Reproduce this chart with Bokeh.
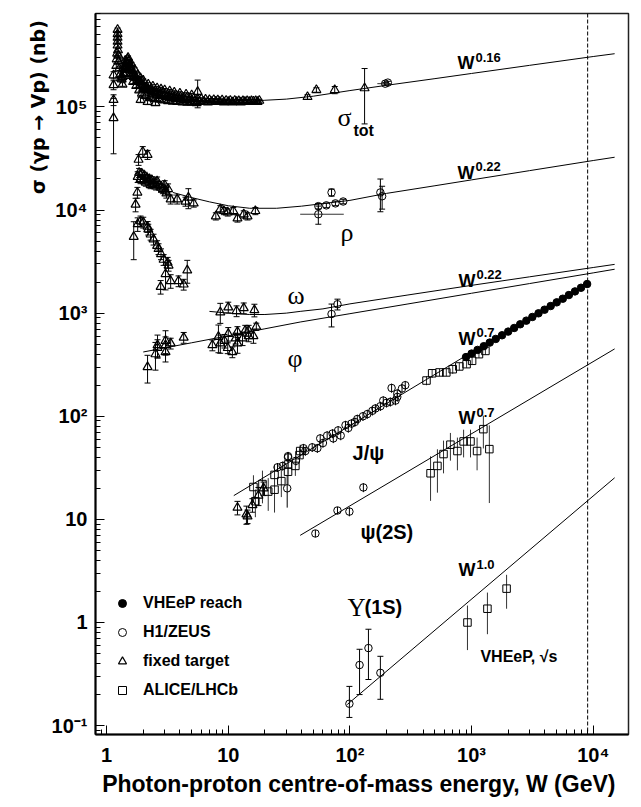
from bokeh.plotting import figure
from bokeh.models import (ColumnDataSource, Whisker, TeeHead, Span, Label, Legend, LegendItem,
                          FixedTicker, CustomJSTickFormatter, Range1d, Title)
from bokeh.embed import file_html
from bokeh.resources import INLINE

# ---------------- data (W in GeV, sigma in nb) ----------------
# sigma_tot, fixed target
tot_ft_W = [1.14, 1.14, 1.14, 1.14, 1.20, 1.21, 1.22, 1.23, 1.23, 1.23, 1.23, 1.23, 1.24, 1.25, 1.26, 1.27,
            1.29, 1.31, 1.33, 1.35, 1.37, 1.40, 1.43, 1.46, 1.49, 1.52, 1.55, 1.58, 1.62, 1.66, 1.70, 1.75,
            1.80, 1.86, 1.92, 1.98, 2.05, 2.12, 2.20, 2.28, 2.37, 2.46, 2.56, 2.67, 2.78, 2.90, 3.03, 3.17,
            3.32, 3.48, 3.65, 3.85, 4.05, 4.30, 4.55, 4.85, 5.20, 5.60, 6.00, 6.50, 7.00, 7.60, 8.20, 8.90,
            9.60, 10.4, 11.3, 12.2, 13.2, 14.3, 15.5, 16.8, 18.0,
            1.35, 1.45, 1.55, 1.65, 1.75, 1.85, 1.95, 2.10, 2.30, 2.50, 2.70, 2.95, 3.20, 3.50, 3.80, 4.20,
            4.60, 5.00, 5.50,
            1.42, 1.50, 1.60, 1.70, 1.80, 1.90, 2.00, 2.20, 2.40, 2.60, 2.80, 3.00, 3.30, 3.60, 4.00, 4.50,
            5.00,
            1.38, 1.47, 1.57, 1.67, 1.77, 1.88, 2.00, 2.15, 2.35, 2.55, 2.75, 3.10, 3.40, 3.70, 4.10, 4.40,
            4.80, 5.30, 5.80, 6.30, 6.80, 7.30, 7.90, 8.50, 9.20, 10.0, 10.8, 11.7, 12.7, 13.7, 14.9, 16.1,
            17.4,
            1.90, 2.17, 2.52, 5.60, 44.8, 53.0, 75.0, 132.0]
tot_ft_sig = [7.8e4, 1.17e5, 1.63e5, 2.03e5, 2.5e5, 2.9e5, 3.3e5, 5.6e5, 5.1e5, 4.7e5, 4.3e5, 3.95e5, 3.55e5, 3.15e5, 2.75e5, 2.35e5,
              2.05e5, 1.9e5, 1.85e5, 1.95e5, 2.1e5, 2.3e5, 2.5e5, 2.7e5, 2.9e5, 2.75e5, 2.55e5, 2.4e5, 2.25e5, 2.1e5, 2.0e5, 1.9e5,
              1.82e5, 1.75e5, 1.7e5, 1.62e5, 1.57e5, 1.53e5, 1.48e5, 1.46e5, 1.43e5, 1.40e5, 1.38e5, 1.36e5, 1.35e5, 1.33e5, 1.32e5, 1.30e5,
              1.29e5, 1.27e5, 1.26e5, 1.25e5, 1.24e5, 1.23e5, 1.22e5, 1.21e5, 1.20e5, 1.19e5, 1.19e5, 1.18e5, 1.17e5, 1.17e5, 1.16e5, 1.16e5,
              1.15e5, 1.15e5, 1.15e5, 1.14e5, 1.14e5, 1.14e5, 1.14e5, 1.14e5, 1.15e5,
              1.65e5, 2.1e5, 2.0e5, 1.75e5, 1.6e5, 1.45e5, 1.35e5, 1.28e5, 1.22e5, 1.2e5, 1.18e5, 1.16e5, 1.14e5, 1.13e5, 1.12e5, 1.11e5,
              1.1e5, 1.1e5, 1.09e5,
              2.8e5, 3.0e5, 2.6e5, 2.3e5, 2.05e5, 1.9e5, 1.8e5, 1.65e5, 1.58e5, 1.52e5, 1.48e5, 1.45e5, 1.42e5, 1.38e5, 1.35e5, 1.32e5,
              1.3e5,
              2.4e5, 2.6e5, 2.3e5, 1.95e5, 1.75e5, 1.6e5, 1.5e5, 1.45e5, 1.35e5, 1.3e5, 1.28e5, 1.25e5, 1.22e5, 1.2e5, 1.18e5, 1.17e5,
              1.15e5, 1.13e5, 1.12e5, 1.12e5, 1.11e5, 1.12e5, 1.13e5, 1.12e5, 1.11e5, 1.12e5, 1.11e5, 1.12e5, 1.11e5, 1.12e5, 1.12e5, 1.13e5,
              1.12e5,
              1.17e5, 1.12e5, 1.09e5, 1.4e5, 1.25e5, 1.46e5, 1.46e5, 1.52e5]
tot_ft_err = [0.55, 0.12, 0.10, 0.08, 0.05, 0.05, 0.05, 0.04, 0.04, 0.04, 0.04, 0.04, 0.04, 0.04, 0.04, 0.04,
              0.04, 0.04, 0.04, 0.04, 0.04, 0.04, 0.04, 0.04, 0.04, 0.04, 0.04, 0.04, 0.04, 0.04, 0.04, 0.04,
              0.04, 0.04, 0.04, 0.04, 0.04, 0.04, 0.04, 0.04, 0.04, 0.04, 0.04, 0.04, 0.04, 0.04, 0.04, 0.04,
              0.03, 0.03, 0.03, 0.03, 0.03, 0.03, 0.03, 0.03, 0.03, 0.03, 0.03, 0.03, 0.03, 0.03, 0.03, 0.03,
              0.03, 0.03, 0.03, 0.03, 0.03, 0.03, 0.03, 0.03, 0.03,
              0.04, 0.04, 0.04, 0.04, 0.04, 0.04, 0.04, 0.04, 0.04, 0.04, 0.04, 0.04, 0.04, 0.04, 0.04, 0.04,
              0.04, 0.04, 0.04,
              0.04, 0.04, 0.04, 0.04, 0.04, 0.04, 0.04, 0.04, 0.04, 0.04, 0.04, 0.04, 0.04, 0.04, 0.04, 0.04,
              0.04,
              0.04, 0.04, 0.04, 0.04, 0.04, 0.04, 0.04, 0.04, 0.04, 0.04, 0.04, 0.04, 0.04, 0.04, 0.04, 0.04,
              0.04, 0.04, 0.04, 0.04, 0.04, 0.04, 0.04, 0.04, 0.04, 0.04, 0.04, 0.04, 0.04, 0.04, 0.04, 0.04,
              0.04,
              0.06, 0.06, 0.05, 0.30, 0.05, 0.05, 0.08, 0.55]
# sigma_tot, H1/ZEUS
tot_hz_W = [195.0, 205.0]
tot_hz_sig = [1.68e5, 1.72e5]
tot_hz_err = [0.03, 0.03]

# rho
rho_ft_W = [1.73, 1.79, 1.80, 1.83, 1.98, 2.17, 1.85, 1.90, 1.95, 2.00, 2.05, 2.10, 2.15, 2.20, 2.25, 2.30,
            2.35, 2.40, 2.50, 2.55, 2.60, 2.70, 2.80, 2.90, 3.00, 3.05, 3.10, 3.20, 3.36, 3.80, 4.45, 4.70,
            5.20, 7.90, 8.60, 9.20, 9.90, 11.0, 11.9, 13.4, 14.4, 16.7]
rho_ft_sig = [1.13e4, 1.48e4, 2.1e4, 3.08e4, 3.68e4, 3.44e4, 2.3e4, 2.0e4, 2.25e4, 1.95e4, 2.15e4, 1.85e4, 2.05e4, 1.9e4, 2.0e4, 1.75e4,
              1.95e4, 1.8e4, 1.85e4, 1.7e4, 1.9e4, 1.75e4, 1.65e4, 1.6e4, 1.75e4, 1.55e4, 1.45e4, 1.6e4, 1.27e4, 1.27e4, 1.21e4, 1.32e4,
              1.16e4, 8.7e3, 1.02e4, 9.8e3, 9.5e3, 9.8e3, 8.3e3, 9.1e3, 8.7e3, 9.8e3]
rho_ft_err = [0.15, 0.12, 0.12, 0.12, 0.12, 0.10, 0.10, 0.10, 0.08, 0.08, 0.08, 0.08, 0.08, 0.08, 0.08, 0.08,
              0.08, 0.08, 0.08, 0.08, 0.10, 0.08, 0.10, 0.10, 0.10, 0.10, 0.10, 0.12, 0.10, 0.10, 0.10, 0.22,
              0.08, 0.08, 0.08, 0.08, 0.08, 0.08, 0.08, 0.08, 0.08, 0.08]
rho_hz_W = [55.0, 55.0, 70.6, 64.0, 76.0, 88.0, 178.0, 184.0]
rho_hz_sig = [1.09e4, 9.1e3, 1.48e4, 1.11e4, 1.16e4, 1.21e4, 1.48e4, 1.36e4]
rho_hz_err = [0.06, 0.20, 0.08, 0.05, 0.05, 0.05, 0.35, 0.25]

# omega
omega_ft_W = [1.67, 1.80, 1.90, 2.00, 2.17, 2.20, 2.30, 2.43, 2.60, 2.67, 2.80, 2.94, 3.17, 3.23, 2.78,
              3.05, 3.36, 3.90, 4.30, 4.60, 8.6, 10.0, 11.7, 13.4, 16.4]
omega_ft_sig = [5.5e3, 7.3e3, 7.8e3, 7.6e3, 6.9e3, 6.5e3, 5.8e3, 5.2e3, 4.5e3, 4.2e3, 3.75e3, 3.3e3, 3.1e3, 2.9e3, 1.8e3,
                2.4e3, 2.05e3, 2.05e3, 1.9e3, 2.6e3, 1.02e3, 1.14e3, 1.05e3, 1.12e3, 1.07e3]
omega_ft_err = [0.40, 0.15, 0.12, 0.12, 0.12, 0.12, 0.12, 0.12, 0.12, 0.12, 0.12, 0.12, 0.12, 0.12, 0.15,
                0.30, 0.15, 0.12, 0.12, 0.25, 0.22, 0.12, 0.12, 0.12, 0.14]
omega_hz_W = [79.0]
omega_hz_sig = [1.22e3]
omega_hz_err = [0.12]

# phi
phi_ft_W = [2.17, 2.52, 2.62, 2.62, 3.05, 3.05, 3.05, 3.36, 4.3, 7.4, 8.3, 8.6, 9.3, 9.9, 10.8, 10.0,
            11.5, 11.9, 13.1, 13.8, 14.7, 16.1, 17.0, 11.9, 14.7]
phi_ft_sig = [300, 400, 490, 460, 490, 540, 420, 510, 580, 490, 590, 510, 540, 460, 420, 630,
              570, 660, 570, 680, 600, 600, 740, 510, 680]
phi_ft_err = [0.30, 0.30, 0.25, 0.20, 0.20, 0.25, 0.20, 0.12, 0.12, 0.12, 0.30, 0.20, 0.15, 0.12, 0.12, 0.15,
              0.12, 0.12, 0.15, 0.12, 0.12, 0.15, 0.08, 0.20, 0.12]
phi_hz_W = [70.6]
phi_hz_sig = [980.0]
phi_hz_err = [0.25]

# J/psi
jpsi_ft_W = [11.9, 14.1, 15.8, 17.7, 19.5, 14.4]
jpsi_ft_sig = [13.0, 11.2, 13.8, 17.0, 20.0, 10.7]
jpsi_ft_err = [0.15, 0.20, 0.15, 0.20, 0.15, 0.15]
jpsi_hz_W = [25.4, 28, 31, 30.5, 41.5, 43, 49, 54, 57, 65, 72, 73, 80, 84, 92, 97, 103, 115, 139, 153,
             162, 178, 188, 215, 237, 220, 245, 268, 285, 245, 31, 36, 60, 110, 128, 200]
jpsi_hz_sig = [32, 33, 41, 20, 49, 46, 50, 49, 61, 65, 68, 61, 73, 65, 82, 77, 85, 94, 105, 113,
               119, 125, 142, 138, 142, 188, 166, 186, 200, 154, 40, 37, 55, 88, 100, 135]
jpsi_hz_err = [0.10, 0.10, 0.10, 0.35, 0.10, 0.10, 0.10, 0.10, 0.10, 0.10, 0.10, 0.10, 0.10, 0.10, 0.10, 0.10, 0.10, 0.10, 0.10, 0.10,
               0.10, 0.10, 0.10, 0.10, 0.10, 0.10, 0.10, 0.10, 0.10, 0.10, 0.10, 0.10, 0.10, 0.10, 0.10, 0.10]
jpsi_lhc_W = [16.1, 19.1, 21.3, 24, 24, 27.3, 31, 31, 35.6, 38.5, 39, 16.7,
              426, 474, 545, 620, 700, 793, 910, 1010, 1150, 1300]
jpsi_lhc_sig = [20.6, 22, 18.6, 19.4, 27, 23.5, 29, 34, 33, 42, 46, 15.0,
                222, 261, 266, 266, 286, 304, 320, 345, 400, 430]
jpsi_lhc_err = [0.30, 0.35, 0.35, 0.40, 0.25, 0.30, 0.25, 0.20, 0.20, 0.15, 0.15, 0.30,
                0.10, 0.10, 0.08, 0.08, 0.10, 0.08, 0.08, 0.08, 0.08, 0.08]
vheep_W = [900, 1000, 1120, 1260, 1410, 1580, 1780, 2000, 2240, 2510, 2820, 3160, 3550, 3980, 4470,
           5010, 5620, 6310, 7080, 7940, 8910]
vheep_sig = [375, 405, 440, 478, 518, 562, 610, 662, 718, 780, 846, 918, 996, 1080, 1172,
             1272, 1380, 1498, 1625, 1763, 1915]

# psi(2S)
psi2s_hz_W = [52, 79, 99, 129]
psi2s_hz_sig = [7.3, 12.2, 11.9, 20.4]
psi2s_hz_err = [0.08, 0.08, 0.10, 0.10]
psi2s_lhc_W = [460, 524, 588, 670, 765, 860, 980, 1110, 1250, 1400]
psi2s_lhc_sig = [28, 33, 43, 53, 46, 57, 57, 46, 75, 48]
psi2s_lhc_err = [0.46, 0.45, 0.35, 0.30, 0.35, 0.30, 0.30, 0.35, 0.35, 0.70]

# Upsilon(1S)
ups_hz_W = [99, 120, 142, 178]
ups_hz_sig = [0.163, 0.387, 0.565, 0.325]
ups_hz_lo = [0.12, 0.20, 0.28, 0.18]
ups_hz_hi = [0.24, 0.55, 0.86, 0.47]
ups_lhc_W = [925, 1350, 1940]
ups_lhc_sig = [1.0, 1.36, 2.13]
ups_lhc_lo = [0.54, 0.77, 1.36]
ups_lhc_hi = [1.46, 1.95, 2.9]

# fitted curves
tot_fit_W = [18, 20, 30, 50, 100, 200, 500, 1000, 3000, 10000, 15000]
tot_fit_sig = [1.15e5, 1.16e5, 1.19e5, 1.27e5, 1.44e5, 1.62e5, 1.88e5, 2.11e5, 2.53e5, 3.08e5, 3.28e5]
rho_fit_W = [3.5, 5, 7, 10, 15, 25, 40, 70, 100, 200, 500, 1000, 3000, 10000, 15000]
rho_fit_sig = [1.48e4, 1.32e4, 1.2e4, 1.1e4, 1.04e4, 1.04e4, 1.09e4, 1.18e4, 1.24e4, 1.45e4, 1.72e4, 1.96e4, 2.41e4, 3.02e4, 3.25e4]
omega_fit_W = [7, 10, 15, 20, 30, 39, 60, 100, 300, 1000, 3000, 10000, 15000]
omega_fit_sig = [1.04e3, 1.0e3, 9.7e2, 9.7e2, 1.0e3, 1.04e3, 1.1e3, 1.23e3, 1.5e3, 1.86e3, 2.25e3, 2.77e3, 2.97e3]
phi_fit_W = [2.0, 5, 10, 20, 39, 100, 300, 1000, 3000, 10000, 15000]
phi_fit_sig = [420, 516, 603, 705, 820, 988, 1228, 1559, 1936, 2457, 2665]
jpsi_fit_W = [11.1, 9000]
jpsi_fit_sig = [17.0, 1990]
psi2s_fit_W = [39, 15000]
psi2s_fit_sig = [7.0, 450]
ups_fit_W = [95, 15000]
ups_fit_sig = [0.16, 25.3]

vheep_sqrt_s = 9000.0

x_major = [1, 10, 100, 1000, 10000]
y_major = [0.1, 1, 10, 100, 1000, 1e4, 1e5]

# ---------------- figure ----------------
SANS = "Liberation Sans"
SERIF = "Liberation Serif"

p = figure(x_axis_type="log", y_axis_type="log",
           x_range=Range1d(0.81, 19500), y_range=Range1d(0.082, 8.05e5),
           width=633, height=799,
           min_border_left=95, min_border_right=5, min_border_top=13, min_border_bottom=61,
           output_backend="svg", toolbar_location=None)
p.background_fill_color = "white"
p.border_fill_color = "white"
p.outline_line_color = "#222222"
p.outline_line_width = 1.5
p.xgrid.visible = False
p.ygrid.visible = False

fmt = CustomJSTickFormatter(code="""
const e = Math.round(Math.log10(tick));
if (e === 0) return "1";
if (e === 1) return "10";
const sup = {"-": "\u207b", "0": "\u2070", "1": "\u00b9", "2": "\u00b2", "3": "\u00b3",
             "4": "\u2074", "5": "\u2075", "6": "\u2076", "7": "\u2077", "8": "\u2078", "9": "\u2079"};
return "10" + String(e).split("").map(c => sup[c]).join("");
""")

x_minor = [0.9] + [k * 10 ** d for d in range(0, 4) for k in range(2, 10)]
y_minor = [k * 10.0 ** d for d in range(-2, 6) for k in range(2, 10)]
p.xaxis.ticker = FixedTicker(ticks=x_major, minor_ticks=x_minor)
p.yaxis.ticker = FixedTicker(ticks=y_major, minor_ticks=y_minor)
for ax in (p.xaxis[0], p.yaxis[0]):
    ax.formatter = fmt
    ax.major_tick_in = 9
    ax.major_tick_out = 0
    ax.minor_tick_in = 5
    ax.minor_tick_out = 0
    ax.axis_line_width = 2
    ax.axis_line_color = "black"
    ax.major_tick_line_color = "black"
    ax.minor_tick_line_color = "black"
    ax.major_label_text_font = SANS
    ax.major_label_text_font_style = "bold"
    ax.major_label_text_font_size = "20px"
    ax.major_label_text_color = "black"
p.yaxis.major_label_standoff = 8
p.xaxis.major_label_standoff = 9
p.xaxis.axis_label = "Photon-proton centre-of-mass energy, W  (GeV)"
p.xaxis.axis_label_text_font = SANS
p.xaxis.axis_label_text_font_style = "bold"
p.xaxis.axis_label_text_font_size = "23px"
p.xaxis.axis_label_standoff = 2
p.xaxis.axis_label_text_color = "black"

# y-axis title, at the top of the left side as in the reference
p.add_layout(Title(text="σ (γp → Vp)  (nb)", align="right", text_font="DejaVu Sans",
                   text_font_style="bold", text_font_size="19px", text_color="black",
                   standoff=0), "left")
# blank outer panel that moves the title away from the page edge
p.add_layout(Title(text=" ", text_font_size="16px", standoff=4), "left")

# dashed line at VHEeP sqrt(s)
p.add_layout(Span(location=vheep_sqrt_s, dimension="height", line_color="black",
                  line_width=1, line_dash="4 2"))

# fit curves
for fw, fs in [(tot_fit_W, tot_fit_sig), (rho_fit_W, rho_fit_sig), (omega_fit_W, omega_fit_sig),
               (phi_fit_W, phi_fit_sig), (jpsi_fit_W, jpsi_fit_sig), (psi2s_fit_W, psi2s_fit_sig),
               (ups_fit_W, ups_fit_sig)]:
    p.line(fw, fs, line_color="black", line_width=1)


def errbars(W, lo, hi, color="black", caps=True):
    src = ColumnDataSource(dict(x=W, lo=lo, hi=hi))
    w = Whisker(source=src, base="x", lower="lo", upper="hi", line_color=color, line_width=1)
    if caps:
        w.upper_head = TeeHead(size=6, line_color=color, line_width=1)
        w.lower_head = TeeHead(size=6, line_color=color, line_width=1)
    else:
        w.upper_head = None
        w.lower_head = None
    p.add_layout(w)


def rel_errbars(W, s, e, color="black", caps=True):
    lo = [v * (1 - r) for v, r in zip(s, e)]
    hi = [v * (1 + r) for v, r in zip(s, e)]
    errbars(W, lo, hi, color, caps)


def pts(W, s, marker, size, filled=False, lw=1.0):
    return p.scatter(W, s, marker=marker, size=size, line_color="black", line_width=lw,
                     fill_color="black" if filled else "white", fill_alpha=1.0 if filled else 0.0)


TRI, CIR, SQR = 9, 7.5, 7.5

# error bars
rel_errbars(tot_ft_W, tot_ft_sig, tot_ft_err)
rel_errbars(tot_hz_W, tot_hz_sig, tot_hz_err)
rel_errbars(rho_ft_W, rho_ft_sig, rho_ft_err)
rel_errbars(rho_hz_W, rho_hz_sig, rho_hz_err)
rel_errbars(omega_ft_W, omega_ft_sig, omega_ft_err)
rel_errbars(omega_hz_W, omega_hz_sig, omega_hz_err)
rel_errbars(phi_ft_W, phi_ft_sig, phi_ft_err)
rel_errbars(phi_hz_W, phi_hz_sig, phi_hz_err)
rel_errbars(jpsi_ft_W, jpsi_ft_sig, jpsi_ft_err)
rel_errbars(jpsi_hz_W, jpsi_hz_sig, jpsi_hz_err, caps=False)
rel_errbars(jpsi_lhc_W, jpsi_lhc_sig, jpsi_lhc_err, color="#333333", caps=False)
rel_errbars(psi2s_hz_W, psi2s_hz_sig, psi2s_hz_err, caps=False)
rel_errbars(psi2s_lhc_W, psi2s_lhc_sig, psi2s_lhc_err, color="#333333", caps=False)
errbars(ups_hz_W, ups_hz_lo, ups_hz_hi)
errbars(ups_lhc_W, ups_lhc_lo, ups_lhc_hi, color="#333333", caps=False)

# horizontal error bars (H1/ZEUS)
hx_y = [tot_hz_sig[0], rho_hz_sig[1]]
hx_lo = [168.0, 39.0]
hx_hi = [215.0, 89.0]
p.add_layout(Whisker(source=ColumnDataSource(dict(y=hx_y, lo=hx_lo, hi=hx_hi)), base="y",
                     lower="lo", upper="hi", dimension="width", line_color="#333333",
                     line_width=1, upper_head=None, lower_head=None))

# markers
r_ft = pts(tot_ft_W, tot_ft_sig, "triangle", TRI, lw=1.2)
pts(rho_ft_W, rho_ft_sig, "triangle", TRI, lw=1.2)
pts(omega_ft_W, omega_ft_sig, "triangle", TRI, lw=1.2)
pts(phi_ft_W, phi_ft_sig, "triangle", TRI, lw=1.2)
pts(jpsi_ft_W, jpsi_ft_sig, "triangle", TRI, lw=1.2)
pts(tot_hz_W, tot_hz_sig, "circle", CIR)
pts(rho_hz_W, rho_hz_sig, "circle", CIR)
pts(omega_hz_W, omega_hz_sig, "circle", CIR)
pts(phi_hz_W, phi_hz_sig, "circle", CIR)
r_hz = pts(jpsi_hz_W, jpsi_hz_sig, "circle", CIR)
pts(psi2s_hz_W, psi2s_hz_sig, "circle", CIR)
pts(ups_hz_W, ups_hz_sig, "circle", CIR)
r_lhc = pts(jpsi_lhc_W, jpsi_lhc_sig, "square", SQR)
pts(psi2s_lhc_W, psi2s_lhc_sig, "square", SQR)
pts(ups_lhc_W, ups_lhc_sig, "square", SQR)
r_vh = pts(vheep_W, vheep_sig, "circle", 7.5, filled=True)

legend = Legend(items=[LegendItem(label="VHEeP reach", renderers=[r_vh]),
                       LegendItem(label="H1/ZEUS", renderers=[r_hz]),
                       LegendItem(label="fixed target", renderers=[r_ft]),
                       LegendItem(label="ALICE/LHCb", renderers=[r_lhc])],
                location=(17, 34), padding=0, margin=0, spacing=9,
                glyph_width=20, glyph_height=20, label_height=20, label_standoff=11,
                border_line_alpha=0, background_fill_alpha=0,
                label_text_font=SANS, label_text_font_style="bold",
                label_text_font_size="16px", label_text_color="black")
p.add_layout(legend)


# text labels
def txt(x, y, text, size, font=SANS, style="bold", xo=0, yo=0):
    p.add_layout(Label(x=x, y=y, text=text, x_offset=xo, y_offset=yo, text_font=font,
                       text_font_style=style, text_font_size=size, text_color="black",
                       text_baseline="alphabetic"))


def power(x, y, exponent):
    txt(x, y, "W", "18px")
    txt(x, y, exponent, "13px", xo=18, yo=6)


power(766, 2.66e5, "0.16")
power(766, 2.31e4, "0.22")
power(780, 2.05e3, "0.22")
power(780, 566, "0.7")
power(780, 96, "0.7")
power(780, 3.2, "1.0")

txt(79, 7.83e4, "σ", "26px", font=SERIF, style="normal")
txt(79, 7.83e4, "tot", "16px", xo=16, yo=-13)
txt(83.7, 6.1e3, "ρ", "26px", font=SERIF, style="normal")
txt(30.7, 1.47e3, "ω", "26px", font=SERIF, style="normal")
txt(30.7, 363, "φ", "26px", font=SERIF, style="normal")
txt(105, 44, "J/ψ", "20px")
txt(122, 7.5, "ψ(2S)", "20px")
txt(95.5, 1.41, "Υ", "25px", font=SERIF, style="normal")
txt(95.5, 1.41, "(1S)", "20px", xo=17)
txt(1183, 0.464, "VHEeP, √s", "16px")

open("out.html", "w").write(file_html(p, INLINE))
